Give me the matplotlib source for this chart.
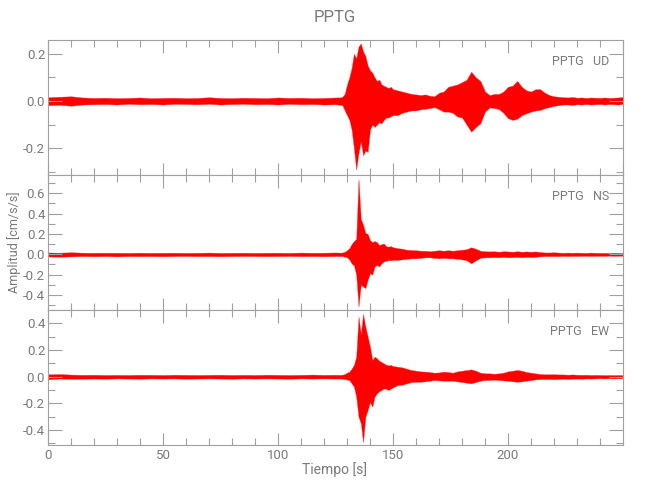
import numpy as np
import matplotlib
matplotlib.use("Agg")
import matplotlib.pyplot as plt
from matplotlib.ticker import MultipleLocator, FormatStrFormatter

# ---------------- data (envelope of each trace) ----------------
t_quiet = list(range(0, 126, 5))          # 0..125 every 5 s
t_event = list(range(127, 151, 1))        # 127..150 every 1 s
t_coda = list(range(152, 251, 2))         # 152..250 every 2 s
t_nodes = t_quiet + t_event + t_coda

ud_hi = ([0.016, 0.018, 0.020, 0.015, 0.013, 0.014, 0.012, 0.013, 0.015, 0.012, 0.013, 0.014, 0.012,
          0.013, 0.016, 0.013, 0.012, 0.014, 0.013, 0.012, 0.015, 0.013, 0.014, 0.012, 0.013, 0.015] +
         [0.015, 0.018, 0.030, 0.070, 0.100, 0.140, 0.200, 0.180, 0.230, 0.244, 0.210, 0.190, 0.150,
          0.130, 0.120, 0.100, 0.085, 0.090, 0.070, 0.065, 0.060, 0.055, 0.060, 0.050] +
         [0.045, 0.040, 0.035, 0.030, 0.028, 0.025, 0.028, 0.022, 0.020, 0.035, 0.040, 0.060, 0.065,
          0.070, 0.080, 0.090, 0.124, 0.100, 0.085, 0.040, 0.025, 0.030, 0.030, 0.040, 0.060, 0.065,
          0.085, 0.060, 0.045, 0.040, 0.050, 0.050, 0.035, 0.025, 0.020, 0.018, 0.016, 0.015, 0.017,
          0.014, 0.015, 0.013, 0.015, 0.014, 0.013, 0.015, 0.013, 0.014, 0.015, 0.017])
ud_lo = ([-0.018, -0.016, -0.020, -0.015, -0.014, -0.013, -0.015, -0.012, -0.014, -0.013, -0.015, -0.012, -0.013,
          -0.014, -0.012, -0.015, -0.013, -0.012, -0.014, -0.013, -0.015, -0.012, -0.014, -0.013, -0.015, -0.014] +
         [-0.016, -0.018, -0.040, -0.060, -0.080, -0.120, -0.200, -0.290, -0.220, -0.170, -0.230, -0.210, -0.215,
          -0.120, -0.100, -0.110, -0.100, -0.090, -0.095, -0.080, -0.070, -0.070, -0.065, -0.060] +
         [-0.060, -0.050, -0.045, -0.040, -0.040, -0.035, -0.033, -0.030, -0.026, -0.035, -0.045, -0.045, -0.050,
          -0.066, -0.070, -0.100, -0.130, -0.110, -0.094, -0.045, -0.027, -0.030, -0.034, -0.050, -0.073, -0.080,
          -0.075, -0.060, -0.052, -0.045, -0.040, -0.038, -0.030, -0.026, -0.020, -0.018, -0.015, -0.015, -0.017,
          -0.014, -0.015, -0.013, -0.015, -0.014, -0.013, -0.015, -0.013, -0.014, -0.015, -0.012])

ns_hi = ([0.018, 0.016, 0.020, 0.016, 0.015, 0.016, 0.015, 0.014, 0.016, 0.014, 0.015, 0.016, 0.014,
          0.015, 0.017, 0.014, 0.015, 0.016, 0.014, 0.015, 0.016, 0.014, 0.017, 0.015, 0.016, 0.018] +
         [0.016, 0.018, 0.025, 0.040, 0.060, 0.100, 0.130, 0.150, 0.740, 0.350, 0.290, 0.210, 0.200,
          0.140, 0.120, 0.130, 0.120, 0.090, 0.100, 0.107, 0.080, 0.075, 0.080, 0.070] +
         [0.060, 0.055, 0.045, 0.042, 0.040, 0.035, 0.035, 0.030, 0.035, 0.040, 0.035, 0.040, 0.035,
          0.040, 0.045, 0.050, 0.069, 0.055, 0.035, 0.030, 0.028, 0.030, 0.025, 0.030, 0.028, 0.025,
          0.030, 0.025, 0.028, 0.025, 0.028, 0.022, 0.018, 0.018, 0.020, 0.017, 0.015, 0.017, 0.015,
          0.017, 0.015, 0.014, 0.017, 0.015, 0.014, 0.015, 0.013, 0.015, 0.014, 0.013])
ns_lo = ([-0.022, -0.024, -0.021, -0.018, -0.020, -0.018, -0.021, -0.018, -0.019, -0.018, -0.020, -0.018, -0.017,
          -0.019, -0.018, -0.020, -0.018, -0.017, -0.018, -0.019, -0.018, -0.017, -0.019, -0.018, -0.020, -0.018] +
         [-0.018, -0.018, -0.025, -0.030, -0.050, -0.090, -0.110, -0.200, -0.515, -0.300, -0.317, -0.334, -0.250,
          -0.186, -0.200, -0.120, -0.105, -0.120, -0.090, -0.070, -0.065, -0.057, -0.060, -0.055] +
         [-0.055, -0.050, -0.045, -0.040, -0.040, -0.035, -0.030, -0.030, -0.035, -0.040, -0.035, -0.040, -0.040,
          -0.045, -0.050, -0.060, -0.089, -0.060, -0.035, -0.030, -0.030, -0.028, -0.030, -0.025, -0.030, -0.028,
          -0.025, -0.030, -0.025, -0.028, -0.025, -0.020, -0.018, -0.018, -0.018, -0.019, -0.016, -0.018, -0.016,
          -0.017, -0.016, -0.015, -0.017, -0.016, -0.015, -0.016, -0.014, -0.016, -0.015, -0.014])

ew_hi = ([0.018, 0.020, 0.016, 0.014, 0.015, 0.013, 0.014, 0.013, 0.015, 0.014, 0.013, 0.015, 0.014,
          0.013, 0.014, 0.015, 0.013, 0.014, 0.013, 0.015, 0.014, 0.013, 0.014, 0.016, 0.014, 0.015] +
         [0.014, 0.015, 0.020, 0.030, 0.038, 0.060, 0.088, 0.150, 0.450, 0.320, 0.470, 0.375, 0.300,
          0.225, 0.125, 0.150, 0.138, 0.120, 0.110, 0.100, 0.090, 0.085, 0.088, 0.080] +
         [0.075, 0.070, 0.060, 0.050, 0.045, 0.040, 0.038, 0.035, 0.030, 0.032, 0.038, 0.035, 0.030,
          0.040, 0.045, 0.050, 0.055, 0.045, 0.030, 0.025, 0.025, 0.022, 0.025, 0.030, 0.040, 0.045,
          0.050, 0.045, 0.035, 0.030, 0.025, 0.020, 0.018, 0.018, 0.019, 0.017, 0.017, 0.015, 0.017,
          0.015, 0.014, 0.015, 0.013, 0.014, 0.013, 0.012, 0.013, 0.012, 0.013, 0.012])
ew_lo = ([-0.020, -0.014, -0.016, -0.015, -0.014, -0.015, -0.013, -0.014, -0.015, -0.013, -0.014, -0.013, -0.015,
          -0.014, -0.013, -0.014, -0.015, -0.013, -0.014, -0.013, -0.014, -0.015, -0.013, -0.014, -0.013, -0.014] +
         [-0.014, -0.015, -0.018, -0.022, -0.025, -0.050, -0.075, -0.150, -0.300, -0.350, -0.490, -0.300, -0.250,
          -0.190, -0.225, -0.150, -0.125, -0.110, -0.100, -0.088, -0.090, -0.100, -0.090, -0.080] +
         [-0.063, -0.060, -0.050, -0.040, -0.038, -0.038, -0.035, -0.030, -0.025, -0.028, -0.030, -0.030, -0.030,
          -0.035, -0.040, -0.045, -0.050, -0.040, -0.030, -0.025, -0.025, -0.022, -0.025, -0.028, -0.030, -0.035,
          -0.038, -0.035, -0.030, -0.025, -0.020, -0.018, -0.017, -0.017, -0.019, -0.017, -0.015, -0.017, -0.015,
          -0.014, -0.015, -0.013, -0.014, -0.013, -0.012, -0.013, -0.012, -0.013, -0.012, -0.012])

station = "PPTG"
components = ["UD", "NS", "EW"]
x_ticks = [0, 50, 100, 150, 200]
y_limits = [(-0.313, 0.258), (-0.548, 0.78), (-0.512, 0.50)]
title = "PPTG"
x_label = "Tiempo [s]"
y_label = "Amplitud [cm/s/s]"

# ---------------- style ----------------
plt.rcParams['font.family'] = ['Roboto', 'DejaVu Sans']
plt.rcParams['font.weight'] = 'normal'
gray_txt = '#7a7a7a'
gray_ax = '#a0a0a0'

fig = plt.figure(figsize=(6.5, 5.0), dpi=100)
left, width = 48 / 650, 575 / 650
bottoms = [1 - 175 / 500, 1 - 310 / 500, 1 - 445 / 500]
h = 135 / 500

series = [(ud_hi, ud_lo), (ns_hi, ns_lo), (ew_hi, ew_lo)]
for i, ((hi, lo), comp) in enumerate(zip(series, components)):
    ax = fig.add_axes([left, bottoms[i], width, h])
    ax.fill_between(t_nodes, lo, hi, color='#ff0000', linewidth=0.25, edgecolor='#ff3030')
    ax.set_xlim(0, 250)
    ax.set_ylim(*y_limits[i])
    ax.xaxis.set_major_locator(MultipleLocator(50))
    ax.xaxis.set_minor_locator(MultipleLocator(10))
    ax.yaxis.set_major_locator(MultipleLocator(0.2))
    ax.yaxis.set_minor_locator(MultipleLocator(0.1))
    ax.yaxis.set_major_formatter(FormatStrFormatter('%.1f'))
    ax.tick_params(which='both', direction='in', top=True, right=True, color=gray_ax,
                   labelsize=9.5, width=0.8)
    ax.tick_params(which='both', labelcolor=gray_txt)
    ax.tick_params(axis='x', which='major', length=9, pad=3)
    ax.tick_params(axis='x', which='minor', length=5)
    ax.tick_params(axis='y', which='major', length=10, pad=2)
    ax.tick_params(axis='y', which='minor', length=5)
    for s in ax.spines.values():
        s.set_color(gray_ax)
        s.set_linewidth(0.8)
    if i < 2:
        ax.tick_params(axis='x', labelbottom=False)
    else:
        ax.set_xticks(x_ticks)
    ax.text(0.976, 0.843, f"{station}   {comp}", transform=ax.transAxes, ha='right', va='center',
            color=gray_txt, fontsize=9)

fig.text(335 / 650, 1 - 18 / 500, title, ha='center', va='center', color=gray_txt, fontsize=12)
fig.text(335 / 650, 1 - 470 / 500, x_label, ha='center', va='center', color=gray_txt, fontsize=10)
fig.text(14 / 650, 1 - 242 / 500, y_label, ha='center', va='center', rotation=90,
         color=gray_txt, fontsize=9)

fig.savefig("out.png", dpi=100)
